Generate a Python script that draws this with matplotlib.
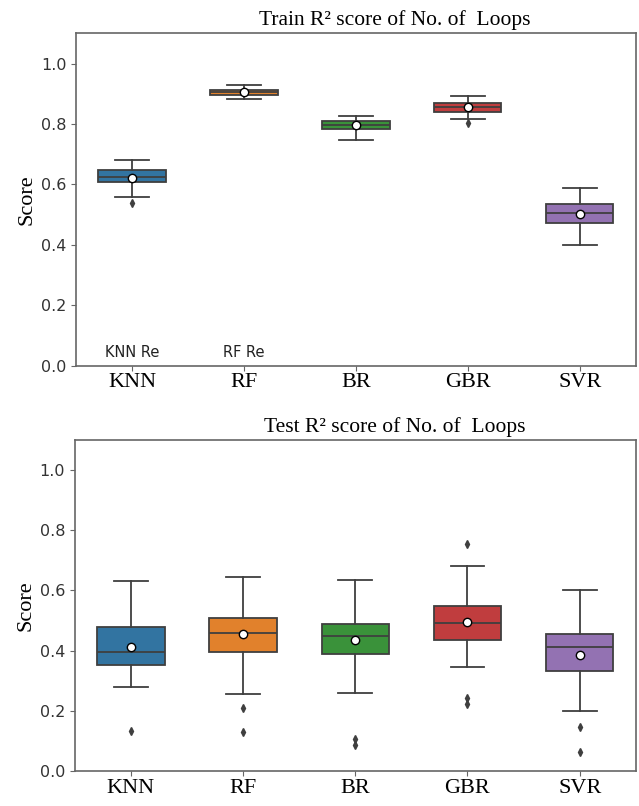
import matplotlib
matplotlib.use("Agg")
import matplotlib.pyplot as plt

# model names on the x axis
models = ["KNN", "RF", "BR", "GBR", "SVR"]
colors = ["#3274a1", "#e1812c", "#3a923a", "#c03d3e", "#9372b2"]

# Train R2 box statistics
train_q1 = [0.607, 0.896, 0.782, 0.841, 0.471]
train_med = [0.626, 0.905, 0.795, 0.855, 0.504]
train_q3 = [0.647, 0.912, 0.809, 0.870, 0.536]
train_lo = [0.559, 0.881, 0.746, 0.818, 0.399]
train_hi = [0.680, 0.928, 0.827, 0.892, 0.589]
train_mean = [0.622, 0.905, 0.795, 0.855, 0.502]
train_fliers = [[0.537], [], [], [0.802], []]

# Test R2 box statistics
test_q1 = [0.352, 0.397, 0.390, 0.434, 0.333]
test_med = [0.397, 0.458, 0.448, 0.493, 0.412]
test_q3 = [0.480, 0.509, 0.488, 0.549, 0.455]
test_lo = [0.279, 0.257, 0.258, 0.344, 0.198]
test_hi = [0.631, 0.646, 0.636, 0.680, 0.603]
test_mean = [0.411, 0.455, 0.436, 0.494, 0.385]
test_fliers = [[0.133], [0.210, 0.130], [0.105, 0.086], [0.753, 0.241, 0.222], [0.146, 0.064]]

# text labels inside the train panel
note_labels = ["KNN Re", "RF Re"]

serif = "Liberation Serif"
line_c = "#3f3f3f"


def make_stats(q1, med, q3, lo, hi, mean, fliers):
    stats = []
    for i in range(len(models)):
        stats.append({"q1": q1[i], "med": med[i], "q3": q3[i],
                      "whislo": lo[i], "whishi": hi[i], "mean": mean[i],
                      "fliers": fliers[i], "label": models[i]})
    return stats


def draw_panel(ax, stats, title):
    bp = ax.bxp(stats, positions=range(len(models)), widths=0.6,
                patch_artist=True, showmeans=True, showfliers=True,
                boxprops=dict(edgecolor=line_c, linewidth=1.3),
                medianprops=dict(color=line_c, linewidth=1.3),
                whiskerprops=dict(color=line_c, linewidth=1.3),
                capprops=dict(color=line_c, linewidth=1.3),
                meanprops=dict(marker="o", markerfacecolor="white",
                               markeredgecolor="black", markersize=6),
                flierprops=dict(marker="d", markerfacecolor=line_c,
                                markeredgecolor=line_c, markersize=4))
    for patch, c in zip(bp["boxes"], colors):
        patch.set_facecolor(c)
    ax.set_xlim(-0.5, len(models) - 0.5)
    ax.set_ylim(0, 1.1)
    ax.set_yticks([0.0, 0.2, 0.4, 0.6, 0.8, 1.0])
    ax.set_xticks(range(len(models)))
    ax.set_xticklabels(models, fontfamily=serif, fontsize=16)
    ax.tick_params(axis="y", labelsize=11.5, labelcolor="#333333",
                   color="#666666", length=3.5)
    ax.tick_params(axis="x", color="#666666", length=3.5, pad=2)
    ax.set_ylabel("Score", fontfamily=serif, fontsize=16, labelpad=3)
    ax.set_title(title, fontfamily=serif, fontsize=15.5, x=0.57, pad=6)
    for sp in ax.spines.values():
        sp.set_color("#666666")
        sp.set_linewidth(1.2)


fig = plt.figure(figsize=(6.39, 8.06), dpi=100)
ax1 = fig.add_axes([0.119, 0.5463, 0.876, 0.4124])
ax2 = fig.add_axes([0.117, 0.0434, 0.878, 0.4107])

draw_panel(ax1, make_stats(train_q1, train_med, train_q3, train_lo, train_hi,
                           train_mean, train_fliers),
           "Train R\u00b2 score of No. of  Loops")
for i, lab in enumerate(note_labels):
    ax1.text(i, 0.045, lab, ha="center", va="center", fontsize=10.5,
             color="#222222")

draw_panel(ax2, make_stats(test_q1, test_med, test_q3, test_lo, test_hi,
                           test_mean, test_fliers),
           "Test R\u00b2 score of No. of  Loops")

fig.savefig("out.png", dpi=100)
